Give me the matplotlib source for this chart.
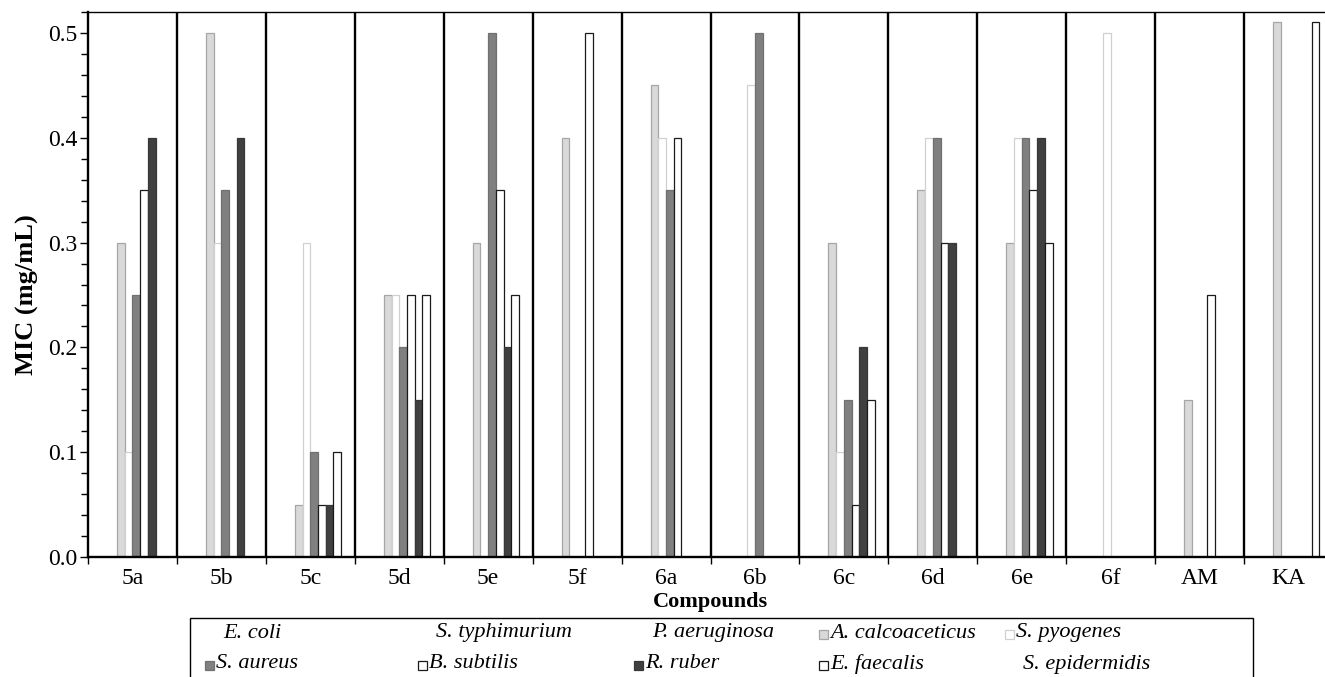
import numpy as np
import matplotlib
matplotlib.use("Agg")
import matplotlib.pyplot as plt
from matplotlib.patches import Rectangle
from matplotlib.ticker import MultipleLocator, FixedLocator

plt.rcParams['font.family'] = ['Liberation Serif', 'DejaVu Serif']

categories = ['5a', '5b', '5c', '5d', '5e', '5f', '6a', '6b', '6c', '6d', '6e', '6f', 'AM', 'KA']
series_names = ['E. coli', 'S. typhimurium', 'P. aeruginosa', 'A. calcoaceticus', 'S. pyogenes',
                'S. aureus', 'B. subtilis', 'R. ruber', 'E. faecalis', 'S. epidermidis']

e_coli          = [0, 0, 0, 0, 0, 0, 0, 0, 0, 0, 0, 0, 0, 0]
s_typhimurium   = [0, 0, 0, 0, 0, 0, 0, 0, 0, 0, 0, 0, 0, 0]
p_aeruginosa    = [0, 0, 0, 0, 0, 0, 0, 0, 0, 0, 0, 0, 0, 0]
a_calcoaceticus = [0.30, 0.50, 0.05, 0.25, 0.30, 0.40, 0.45, 0, 0.30, 0.35, 0.30, 0, 0.15, 0.51]
s_pyogenes      = [0.10, 0.30, 0.30, 0.25, 0, 0, 0.40, 0.45, 0.10, 0.40, 0.40, 0.50, 0, 0]
s_aureus        = [0.25, 0.35, 0.10, 0.20, 0.50, 0, 0.35, 0.50, 0.15, 0.40, 0.40, 0, 0, 0]
b_subtilis      = [0.35, 0, 0.05, 0.25, 0.35, 0.50, 0.40, 0, 0.05, 0.30, 0.35, 0, 0.25, 0]
r_ruber         = [0.40, 0.40, 0.05, 0.15, 0.20, 0, 0, 0, 0.20, 0.30, 0.40, 0, 0, 0]
e_faecalis      = [0, 0, 0.10, 0.25, 0.25, 0, 0, 0, 0.15, 0, 0.30, 0, 0, 0.51]
s_epidermidis   = [0, 0, 0, 0, 0, 0, 0, 0, 0, 0, 0, 0, 0, 0]

series_values = [e_coli, s_typhimurium, p_aeruginosa, a_calcoaceticus, s_pyogenes,
                 s_aureus, b_subtilis, r_ruber, e_faecalis, s_epidermidis]

# styles: (facecolor, edgecolor, visible_in_legend)
styles = [
    ('none', 'none', False),
    ('none', 'none', False),
    ('none', 'none', False),
    ('#d9d9d9', '#a6a6a6', True),
    ('white', '#d0d0d0', True),
    ('#808080', '#707070', True),
    ('white', '#1a1a1a', True),
    ('#404040', '#383838', True),
    ('white', '#1a1a1a', True),
    ('none', 'none', False),
]

W, H = 1325, 677
fig = plt.figure(figsize=(W / 100, H / 100), dpi=100)
ax = fig.add_axes([88 / W, 120 / H, 1245 / W, 545 / H])

n = len(series_names)
x = np.arange(len(categories))
bw = 0.0866
start = -0.5 + (1 - n * bw) / 2
for k, (vals, st) in enumerate(zip(series_values, styles)):
    fc, ec, _ = st
    off = start + (k + 0.5) * bw
    ax.bar(x + off, vals, width=bw, color=fc, edgecolor=ec, linewidth=0.9, zorder=2)

for b in np.arange(len(categories) - 1) + 0.5:
    ax.axvline(b, color='black', lw=1.7, zorder=3)

ax.set_xlim(-0.5, len(categories) - 0.5)
ax.set_ylim(0, 0.52)

ax.set_xticks(x)
ax.set_xticklabels(categories, fontsize=17)
ax.xaxis.set_minor_locator(FixedLocator(np.arange(len(categories) + 1) - 0.5))
ax.tick_params(axis='x', which='major', length=0, pad=8)
ax.tick_params(axis='x', which='minor', length=5, width=1, direction='out')

ax.yaxis.set_major_locator(MultipleLocator(0.1))
ax.yaxis.set_minor_locator(MultipleLocator(0.02))
ax.set_yticks([0, 0.1, 0.2, 0.3, 0.4, 0.5])
ax.set_yticklabels(['0.0', '0.1', '0.2', '0.3', '0.4', '0.5'], fontsize=17)
ax.tick_params(axis='y', which='major', length=5.5, width=1, direction='out', pad=2)
ax.tick_params(axis='y', which='minor', length=5, width=1, direction='out')

ax.spines['left'].set_linewidth(1.7)
ax.spines['bottom'].set_linewidth(1.7)
ax.spines['top'].set_linewidth(1.0)
ax.spines['right'].set_visible(False)

fig.text(27 / W, 1 - 295 / H, 'MIC (mg/mL)', rotation=90, ha='center', va='center',
         fontsize=19, fontweight='bold')
fig.text(710.5 / W, 1 - 602 / H, 'Compounds', ha='center', va='center',
         fontsize=16, fontweight='bold')

# legend box (clipped at bottom like the reference)
fig.patches.append(Rectangle((190 / W, -0.05), (1253 - 190) / W, (677 - 618) / H + 0.05,
                             transform=fig.transFigure, fill=False, edgecolor='black', lw=1.0))

rows_y = [633, 664]
col_sw = [205, 418, 634, 819, 1005]
layout = [  # (series index, row, col)
    (0, 0, 0), (1, 0, 1), (2, 0, 2), (3, 0, 3), (4, 0, 4),
    (5, 1, 0), (6, 1, 1), (7, 1, 2), (8, 1, 3), (9, 1, 4),
]
sw = 9
for idx, r, c in layout:
    fc, ec, vis = styles[idx]
    yc = rows_y[r]
    xs = col_sw[c]
    if vis:
        fig.patches.append(Rectangle((xs / W, (H - yc - sw / 2 - 1) / H), sw / W, sw / H,
                                     transform=fig.transFigure, facecolor=fc, edgecolor=ec, lw=0.9))
        tx = xs + sw + 2
    else:
        tx = xs + 18
    fig.text(tx / W, 1 - yc / H, series_names[idx], ha='left', va='center',
             fontsize=16, style='italic')

fig.savefig('out.png', dpi=100)
